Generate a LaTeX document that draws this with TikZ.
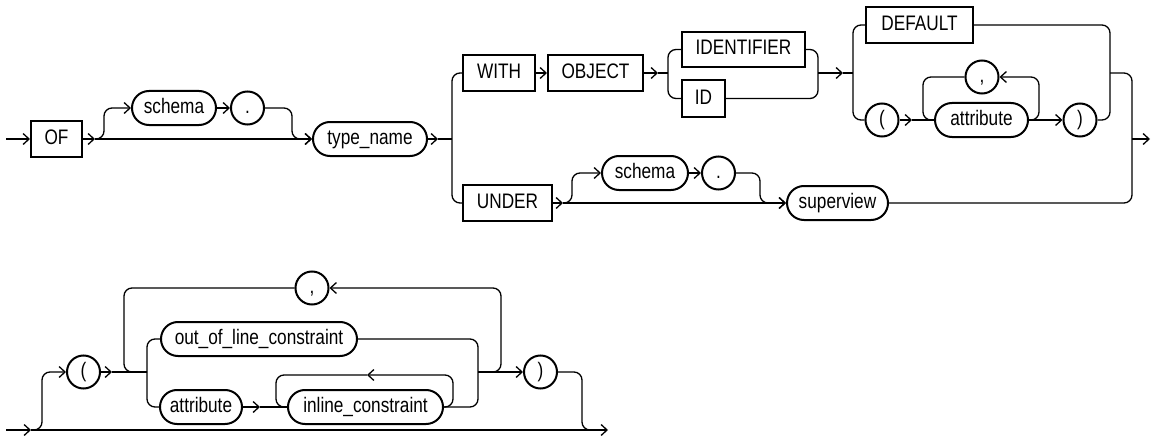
\documentclass[tikz,border=0pt]{standalone}
\usepackage{fontspec}
\setmainfont{Liberation Sans}[FakeStretch=0.82]
\usetikzlibrary{arrows.meta}

\begin{document}
\begin{tikzpicture}[x=1pt,y=-1pt,>={Straight Barb[length=6pt,width=11pt]},
  ln/.style={line width=1.3pt,rounded corners=8pt},
  kw/.style={draw,line width=2pt,minimum height=36pt,inner sep=0pt,text height=15pt,text depth=4pt,font=\fontsize{21}{25}\selectfont},
  nt/.style={kw,rounded corners=17pt,minimum height=34pt},
  sym/.style={draw,circle,line width=2pt,minimum size=33pt,inner sep=0pt,text height=15pt,text depth=4pt,font=\fontsize{21}{25}\selectfont}]
  \useasboundingbox (0,0) rectangle (1152,436);
  % top diagram
  \node[kw,minimum width=51pt] (of) at (56.5,139) {OF};
  \node[nt,minimum width=84pt] (schema1) at (174,108) {schema};
  \node[sym] (dot1) at (247.5,108) {.};
  \node[nt,minimum width=114pt] (typename) at (370,139) {type\_name};
  \node[kw,minimum width=72pt] (with) at (499,73) {WITH};
  \node[kw,minimum width=95pt] (object) at (595.5,73) {OBJECT};
  \node[kw,minimum width=123pt,minimum height=35pt] (ident) at (743.5,49.5) {IDENTIFIER};
  \node[kw,minimum width=43pt] (id) at (703.5,98.5) {ID};
  \node[kw,minimum width=107pt] (default) at (919.5,25) {DEFAULT};
  \node[sym] (lpar1) at (882,120) {(};
  \node[nt,minimum width=93pt] (attr1) at (981.5,120) {attribute};
  \node[sym] (comma1) at (982,77) {,};
  \node[sym] (rpar1) at (1080,120) {)};
  \node[kw,minimum width=89pt] (under) at (507.5,203) {UNDER};
  \node[nt,minimum width=86pt] (schema2) at (645,173) {schema};
  \node[sym] (dot2) at (718.5,173) {.};
  \node[nt,minimum width=101pt] (superview) at (837.5,203) {superview};

  \coordinate (in1) at (6,139);
  \coordinate (j1) at (95,139);
  \coordinate (j2) at (438,139);
  \coordinate (c2) at (452,139);
  \coordinate (j3) at (658,73);
  \coordinate (c3) at (668,73);
  \coordinate (c4) at (818,73);
  \coordinate (j4) at (843,73);
  \coordinate (c5) at (853,73);
  \coordinate (c6) at (912,120);
  \coordinate (c8) at (923,120);
  \coordinate (c9) at (1110,73);
  \coordinate (c10) at (1132,139);
  \coordinate (out1) at (1150,139);
  \coordinate (c11) at (563,203);

  \draw[ln,->] (in1) -- (of.west);
  \draw[ln,->] (of.east) -- (j1);
  \draw[ln,->] (j1) -- (typename.west);
  \draw[ln,->] (j1) -- ++(9,0) |- (schema1.west);
  \draw[ln,->] (schema1.east) -- (dot1.west);
  \draw[ln,->] (dot1.east) -- ++(27,0) |- (typename.west);
  \draw[ln,->] (typename.east) -- (j2);
  \draw[ln] (j2) -- (c2);
  \draw[ln] (with.west) -| (c2) |- (under.west);
  \draw[ln,->] (with.east) -- (object.west);
  \draw[ln,->] (object.east) -- (j3);
  \draw[ln] (j3) -- (c3);
  \draw[ln] (ident.west) -| (c3) |- (id.west);
  \draw[ln] (ident.east) -| (c4) |- (id.east);
  \draw[ln,->] (c4) -- (j4);
  \draw[ln] (j4) -- (c5);
  \draw[ln] (default.west) -| (c5) |- (lpar1.west);
  \draw[ln,->] (lpar1.east) -- (c6);
  \draw[ln] (c6) -- (attr1.west);
  \draw[ln,->] (attr1.east) -- ++(10,0) |- (comma1.east);
  \draw[ln] (comma1.west) -| (c8) -- (attr1.west);
  \draw[ln,->] (attr1.east) -- (rpar1.west);
  \draw[ln] (default.east) -| (c9) |- (rpar1.east);
  \draw[ln] (c9) -| (c10) |- (superview.east);
  \draw[ln,->] (c10) -- (out1);
  \draw[ln,->] (under.east) -- (c11);
  \draw[ln,->] (c11) -- (superview.west);
  \draw[ln,->] (c11) -- ++(9,0) |- (schema2.west);
  \draw[ln,->] (schema2.east) -- (dot2.west);
  \draw[ln,->] (dot2.east) -- ++(24,0) |- (superview.west);

  % bottom diagram
  \node[sym] (lpar2) at (83.5,372) {(};
  \node[sym] (comma2) at (312,288) {,};
  \node[nt,minimum width=196pt] (outofline) at (259,339) {out\_of\_line\_constraint};
  \node[nt,minimum width=82pt] (attr2) at (201,407) {attribute};
  \node[nt,minimum width=155pt] (inline) at (365.5,407) {inline\_constraint};
  \node[sym] (rpar2) at (540.5,372) {)};

  \coordinate (in2) at (6,430);
  \coordinate (c12) at (31,430);
  \coordinate (out2) at (608,430);
  \coordinate (c13) at (112,372);
  \coordinate (c14) at (147,372);
  \coordinate (c15) at (124,372);
  \coordinate (c16) at (260,407);
  \coordinate (c17) at (276,407);
  \coordinate (c18) at (367,375);
  \coordinate (c19) at (478,372);
  \coordinate (c21) at (582,430);

  \draw[ln,->] (in2) -- (c12);
  \draw[ln,->] (c12) -- (out2);
  \draw[ln,->] (c12) -- ++(11,0) |- (lpar2.west);
  \draw[ln,->] (lpar2.east) -- (c13);
  \draw[ln] (c13) -- (c14);
  \draw[ln] (comma2.west) -| (c15) -- (c14);
  \draw[ln] (outofline.west) -| (c14) |- (attr2.west);
  \draw[ln,->] (attr2.east) -- (c16);
  \draw[ln] (c16) -- (inline.west);
  \draw[ln,->] (inline.east) -- ++(9,0) |- (c18);
  \draw[ln] (c18) -| (c17) -- (inline.west);
  \draw[ln] (outofline.east) -| (c19) |- (inline.east);
  \draw[ln,->] (c19) -- (rpar2.west);
  \draw[ln,->] (c19) -- ++(23,0) |- (comma2.east);
  \draw[ln] (rpar2.east) -| (c21) -- ++(12,0);
\end{tikzpicture}
\end{document}
